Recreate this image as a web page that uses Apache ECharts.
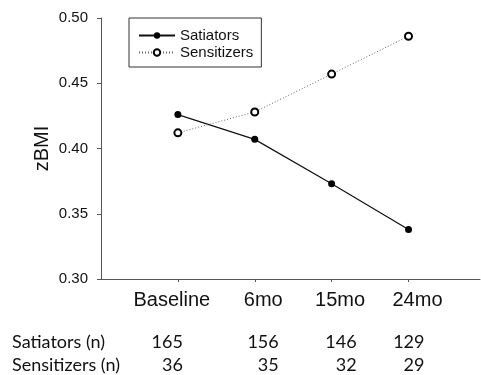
<!DOCTYPE html>
<html><head><meta charset="utf-8">
<script src="https://cdn.jsdelivr.net/npm/echarts@6/dist/echarts.min.js"></script>
<style>html,body{margin:0;padding:0;background:#fff}#c{width:481px;height:375px}</style>
</head><body><div id="c"></div>
<script>
const categories = ['Baseline', '6mo', '15mo', '24mo'];
const satiators = [0.426, 0.407, 0.373, 0.338];
const sensitizers = [0.412, 0.428, 0.457, 0.486];
const seriesNames = ['Satiators', 'Sensitizers'];
const rowLabels = ['Satiators (n)', 'Sensitizers (n)'];
const satN = [165, 156, 146, 129];
const senN = [36, 35, 32, 29];
const yMin = 0.30, yMax = 0.50, yStep = 0.05;

const catPad = [[0, 12, 0, 0], [0, 0, 0, 17], [0, 0, 0, 17], [0, 0, 0, 18]];
const nNudge = [5, 24, 25, 16];

const chart = echarts.init(document.getElementById('c'), null, {renderer: 'canvas'});
const rich = {};
categories.forEach((c, i) => { rich['c' + i] = {padding: catPad[i], fontSize: 20, fontFamily: 'Liberation Sans', color: '#111'}; });
const idx = categories.map((c, i) => i);

chart.setOption({
  animation: false,
  backgroundColor: '#fff',
  grid: {left: 101, right: 1, top: 18, bottom: 96, containLabel: false},
  legend: {
    orient: 'vertical', left: 129, top: 18,
    padding: [10, 8, 7, 9], itemGap: 2, itemWidth: 36, itemHeight: 8,
    borderColor: '#333', borderWidth: 1,
    textStyle: {fontFamily: 'Liberation Sans', fontSize: 15, color: '#111'},
    data: seriesNames
  },
  xAxis: {
    type: 'value', min: -1, max: 3.93, interval: 1,
    splitLine: {show: false},
    axisLine: {onZero: false, lineStyle: {color: '#555', width: 1}},
    axisTick: {show: true, length: 3, customValues: idx, lineStyle: {color: '#555'}},
    axisLabel: {
      customValues: idx, margin: 11,
      formatter: v => '{c' + v + '|' + categories[v] + '}',
      rich: rich
    }
  },
  yAxis: {
    type: 'value', min: yMin, max: yMax, interval: yStep,
    name: 'zBMI', nameLocation: 'middle', nameGap: 49, nameMoveOverlap: false,
    nameTextStyle: {fontFamily: 'Liberation Sans', fontSize: 20, color: '#111'},
    splitLine: {show: false},
    axisLine: {show: true, onZero: false, lineStyle: {color: '#555', width: 1}},
    axisTick: {show: true, length: 4, lineStyle: {color: '#555'}},
    axisLabel: {margin: 13, fontFamily: 'Liberation Sans', fontSize: 15, color: '#111',
      formatter: v => v.toFixed(2)}
  },
  series: [
    {
      name: seriesNames[0], type: 'line',
      data: satiators.map((v, i) => [i, v]),
      symbol: 'circle', symbolSize: 7,
      itemStyle: {color: '#000'},
      lineStyle: {color: '#111', width: 1.2, type: 'solid'}
    },
    {
      name: seriesNames[1], type: 'line',
      data: sensitizers.map((v, i) => [i, v]),
      symbol: 'emptyCircle', symbolSize: 7,
      itemStyle: {color: '#000', borderColor: '#000', borderWidth: 1},
      lineStyle: {color: '#666', width: 1, type: [1, 2]}
    }
  ]
});

const rowY = [342, 365];
const tableFont = '18px Lato';
const g = [];
rowLabels.forEach((t, r) => {
  g.push({type: 'text', x: 12, y: rowY[r], style: {text: t, font: tableFont, fill: '#111', verticalAlign: 'middle'}});
});
[satN, senN].forEach((arr, r) => {
  arr.forEach((n, i) => {
    const px = chart.convertToPixel({xAxisIndex: 0}, i);
    g.push({type: 'text', x: px + nNudge[i], y: rowY[r],
      style: {text: String(n), font: tableFont, fill: '#111', align: 'right', verticalAlign: 'middle'}});
  });
});
chart.setOption({graphic: g});
</script></body></html>
